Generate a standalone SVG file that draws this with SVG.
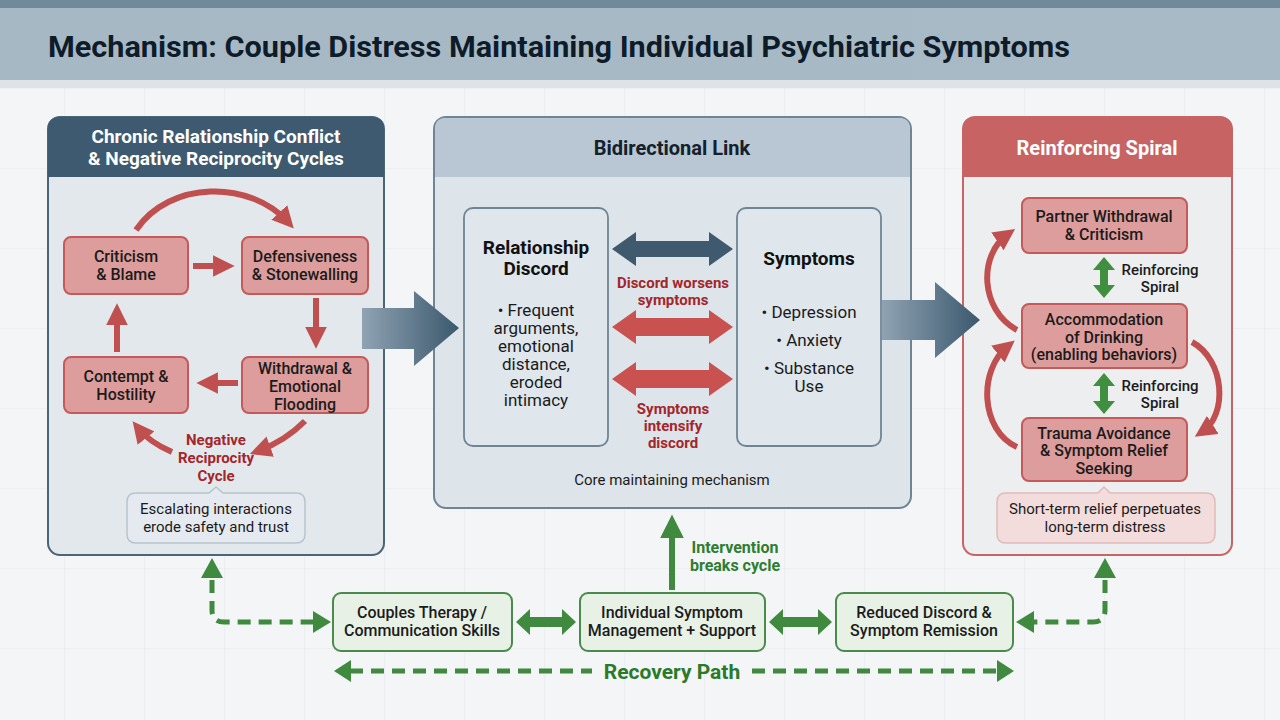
<svg xmlns="http://www.w3.org/2000/svg" width="1280" height="720" viewBox="0 0 1280 720">
<defs>
<pattern id="grid" width="80" height="80" patternUnits="userSpaceOnUse" x="64" y="8">
<path d="M80,0 L0,0 L0,80" fill="none" stroke="#e4e7eb" stroke-width="1"/>
</pattern>
<linearGradient id="bigArrow" x1="0" y1="0" x2="1" y2="0">
<stop offset="0" stop-color="#8fa3b3"/>
<stop offset="1" stop-color="#3b586d"/>
</linearGradient>
<linearGradient id="hdr" x1="0" y1="0" x2="1" y2="0">
<stop offset="0" stop-color="#a7b8c5"/>
<stop offset="1" stop-color="#a9bac7"/>
</linearGradient>
<marker id="redHead" viewBox="0 0 10 10" refX="6" refY="5" markerWidth="3.6" markerHeight="3.6" orient="auto" markerUnits="strokeWidth">
<path d="M0,0 L10,5 L0,10 z" fill="#c0504f"/>
</marker>
<marker id="greenHead" viewBox="0 0 10 10" refX="6" refY="5" markerWidth="4" markerHeight="4" orient="auto" markerUnits="strokeWidth">
<path d="M0,0 L10,5 L0,10 z" fill="#3f8a3f"/>
</marker>
</defs>
<style>
text{font-family:Roboto,"Liberation Sans",sans-serif;text-anchor:middle;}
.nodeR{fill:#dd9d9c;stroke:#c45a5a;stroke-width:2;}
.nodeG{fill:#e8f1e6;stroke:#4a8a4a;stroke-width:2;}
.t{font-size:16px;fill:#1b1b1b;font-weight:500;}
.tb{font-size:19px;fill:#111;font-weight:700;}
.red{font-size:15px;fill:#a3262a;font-weight:700;}
.grn{font-size:16px;fill:#2f7d2f;font-weight:700;}
.redArc{fill:none;stroke:#c0504f;stroke-width:6;marker-end:url(#redHead);}
.greenDash{fill:none;stroke:#3f8a3f;stroke-width:5;stroke-dasharray:13 8;}
.hdrT{font-size:20px;font-weight:700;fill:#fff;}
</style>

<rect width="1280" height="720" fill="#f4f5f7"/>
<rect width="1280" height="720" fill="url(#grid)"/>

<!-- header -->
<g id="header">
<rect x="0" y="0" width="1280" height="88" fill="#dfe3e8"/>
<rect x="0" y="8" width="1280" height="72" fill="url(#hdr)"/>
<rect x="0" y="0" width="1280" height="8" fill="#71899b"/>
<text x="48" y="57" textLength="1022" lengthAdjust="spacingAndGlyphs" style="text-anchor:start;font-size:29px;font-weight:700;fill:#0e1c2a;">Mechanism: Couple Distress Maintaining Individual Psychiatric Symptoms</text>
</g>

<!-- left panel -->
<g id="panel-left">
<rect x="48" y="117" width="336" height="438" rx="12" fill="#e3e8ed" stroke="#4a6478" stroke-width="2"/>
<path d="M48,177 L48,129 Q48,117 60,117 L372,117 Q384,117 384,129 L384,177 Z" fill="#3d5a70"/>
<text class="hdrT" x="216" y="143" style="font-size:19px">Chronic Relationship Conflict</text>
<text class="hdrT" x="216" y="165" style="font-size:19px">&amp; Negative Reciprocity Cycles</text>
</g>

<!-- middle panel -->
<g id="panel-middle">
<rect x="434" y="117" width="477" height="391" rx="12" fill="#dde4ea" stroke="#6f8596" stroke-width="2"/>
<path d="M435,177 L435,129 Q435,118 446,118 L899,118 Q910,118 910,129 L910,177 Z" fill="#b8c7d3"/>
<text x="672" y="155" style="font-size:20px;font-weight:700;fill:#14202c;">Bidirectional Link</text>
<text x="672" y="485" style="font-size:15px;fill:#1b1b1b;">Core maintaining mechanism</text>
</g>

<!-- right panel -->
<g id="panel-right">
<rect x="963" y="117" width="269" height="438" rx="12" fill="#eceef0" stroke="#c96464" stroke-width="2"/>
<path d="M963,177 L963,129 Q963,117 975,117 L1220,117 Q1232,117 1232,129 L1232,177 Z" fill="#c86363"/>
<text class="hdrT" x="1097" y="155">Reinforcing Spiral</text>
</g>

<!-- connectors -->
<g id="connectors">
<path d="M362,308 L414,308 L414,291 L459,328 L414,366 L414,349 L362,349 Z" fill="url(#bigArrow)"/>
<path d="M882,300 L935,300 L935,282 L980,320 L935,358 L935,340 L882,340 Z" fill="url(#bigArrow)"/>

<path class="redArc" d="M136,230 C170,180 250,180 288,222"/>
<line class="redArc" x1="193" y1="266" x2="226" y2="266"/>
<line class="redArc" x1="316" y1="298" x2="316" y2="340"/>
<line class="redArc" x1="238" y1="383" x2="205" y2="383"/>
<line class="redArc" x1="117" y1="352" x2="117" y2="312"/>
<path class="redArc" d="M305,421 C290,436 272,446 258,451"/>
<path class="redArc" d="M172,452 C158,446 146,438 138,428"/>
<text class="red" x="216" y="445">Negative</text>
<text class="red" x="216" y="463">Reciprocity</text>
<text class="red" x="216" y="481">Cycle</text>

<path d="M612,249 L636,232 L636,241 L709,241 L709,232 L733,249 L709,266 L709,257 L636,257 L636,266 Z" fill="#3f5a6e"/>
<path d="M612,327 L636,310 L636,318 L709,318 L709,310 L733,327 L709,344 L709,336 L636,336 L636,344 Z" fill="#c9514f"/>
<path d="M612,379 L636,362 L636,370 L709,370 L709,362 L733,379 L709,396 L709,388 L636,388 L636,396 Z" fill="#c9514f"/>
<text class="red" x="673" y="288">Discord worsens</text>
<text class="red" x="673" y="305">symptoms</text>
<text class="red" x="673" y="414">Symptoms</text>
<text class="red" x="673" y="431">intensify</text>
<text class="red" x="673" y="448">discord</text>

<path d="M1104,257 L1115,270 L1108,270 L1108,285 L1115,285 L1104,298 L1093,285 L1100,285 L1100,270 L1093,270 Z" fill="#3f8f3f"/>
<path d="M1104,373 L1115,386 L1108,386 L1108,401 L1115,401 L1104,414 L1093,401 L1100,401 L1100,386 L1093,386 Z" fill="#3f8f3f"/>
<text x="1160" y="275" style="font-size:15px;fill:#1b1b1b;font-weight:500;">Reinforcing</text>
<text x="1160" y="292" style="font-size:15px;fill:#1b1b1b;font-weight:500;">Spiral</text>
<text x="1160" y="391" style="font-size:15px;fill:#1b1b1b;font-weight:500;">Reinforcing</text>
<text x="1160" y="408" style="font-size:15px;fill:#1b1b1b;font-weight:500;">Spiral</text>
<path class="redArc" d="M1017,330 C980,310 978,255 1008,234"/>
<path class="redArc" d="M1017,447 C980,430 978,370 1008,346"/>
<path class="redArc" d="M1192,342 C1225,360 1228,415 1202,432"/>

<line x1="672" y1="590" x2="672" y2="524" stroke="#3f8a3f" stroke-width="6" marker-end="url(#greenHead)"/>
<text class="grn" x="735" y="553">Intervention</text>
<text class="grn" x="735" y="571">breaks cycle</text>
<path d="M516,622 L530,609 L530,617 L562,617 L562,609 L576,622 L562,635 L562,627 L530,627 L530,635 Z" fill="#3f8a3f"/>
<path d="M769,622 L783,609 L783,617 L818,617 L818,609 L832,622 L818,635 L818,627 L783,627 L783,635 Z" fill="#3f8a3f"/>
<path class="greenDash" d="M212,580 L212,610 Q212,622 224,622 L318,622"/>
<path d="M212,558 L223,578 L201,578 Z" fill="#3f8a3f"/>
<path d="M331,622 L313,611 L313,633 Z" fill="#3f8a3f"/>
<path class="greenDash" d="M1105,580 L1105,610 Q1105,622 1093,622 L1030,622"/>
<path d="M1105,558 L1116,578 L1094,578 Z" fill="#3f8a3f"/>
<path d="M1016,622 L1034,611 L1034,633 Z" fill="#3f8a3f"/>
<line class="greenDash" x1="350" y1="671" x2="592" y2="671" stroke-dasharray="11 7" stroke-width="4"/>
<path d="M334,671 L351,660 L351,682 Z" fill="#3f8a3f"/>
<line class="greenDash" x1="752" y1="671" x2="998" y2="671" stroke-dasharray="11 7" stroke-width="4"/>
<path d="M1014,671 L997,660 L997,682 Z" fill="#3f8a3f"/>
<text x="672" y="679" style="font-size:21px;font-weight:700;fill:#2a7a2a;">Recovery Path</text>
</g>

<g id="node-criticism">
<rect class="nodeR" x="64" y="237" width="124" height="57" rx="7"/>
<text class="t" x="126" y="262">Criticism</text>
<text class="t" x="126" y="280">&amp; Blame</text>
</g>
<g id="node-defensiveness">
<rect class="nodeR" x="242" y="237" width="126" height="57" rx="7"/>
<text class="t" x="305" y="262">Defensiveness</text>
<text class="t" x="305" y="280">&amp; Stonewalling</text>
</g>
<g id="node-withdrawal">
<rect class="nodeR" x="242" y="357" width="126" height="56" rx="7"/>
<text class="t" x="305" y="374">Withdrawal &amp;</text>
<text class="t" x="305" y="392">Emotional</text>
<text class="t" x="305" y="410">Flooding</text>
</g>
<g id="node-contempt">
<rect class="nodeR" x="64" y="357" width="124" height="56" rx="7"/>
<text class="t" x="126" y="382">Contempt &amp;</text>
<text class="t" x="126" y="400">Hostility</text>
</g>
<g id="note-escalating">
<path d="M136,493 L209,493 L216,487 L223,493 L296,493 Q305,493 305,502 L305,534 Q305,543 296,543 L136,543 Q127,543 127,534 L127,502 Q127,493 136,493 Z" fill="#e4eaef" stroke="#b8c4cc" stroke-width="1.5"/>
<text x="216" y="514" style="font-size:15px;fill:#1b1b1b;">Escalating interactions</text>
<text x="216" y="532" style="font-size:15px;fill:#1b1b1b;">erode safety and trust</text>
</g>

<g id="node-discord">
<rect x="464" y="208" width="144" height="238" rx="9" fill="#dfe6ec" stroke="#6f8596" stroke-width="1.8"/>
<text class="tb" x="536" y="254">Relationship</text>
<text class="tb" x="536" y="275">Discord</text>
<text x="536" y="316" style="font-size:17px;fill:#1b1b1b;">• Frequent</text>
<text x="536" y="334" style="font-size:17px;fill:#1b1b1b;">arguments,</text>
<text x="536" y="352" style="font-size:17px;fill:#1b1b1b;">emotional</text>
<text x="536" y="370" style="font-size:17px;fill:#1b1b1b;">distance,</text>
<text x="536" y="388" style="font-size:17px;fill:#1b1b1b;">eroded</text>
<text x="536" y="406" style="font-size:17px;fill:#1b1b1b;">intimacy</text>
</g>
<g id="node-symptoms">
<rect x="737" y="208" width="144" height="238" rx="9" fill="#dfe6ec" stroke="#6f8596" stroke-width="1.8"/>
<text class="tb" x="809" y="265">Symptoms</text>
<text x="809" y="318" style="font-size:17px;fill:#1b1b1b;">• Depression</text>
<text x="809" y="346" style="font-size:17px;fill:#1b1b1b;">• Anxiety</text>
<text x="809" y="374" style="font-size:17px;fill:#1b1b1b;">• Substance</text>
<text x="809" y="392" style="font-size:17px;fill:#1b1b1b;">Use</text>
</g>

<g id="node-partner">
<rect class="nodeR" x="1022" y="198" width="165" height="55" rx="7"/>
<text class="t" x="1104" y="222">Partner Withdrawal</text>
<text class="t" x="1104" y="240">&amp; Criticism</text>
</g>
<g id="node-accommodation">
<rect class="nodeR" x="1022" y="304" width="165" height="64" rx="7"/>
<text class="t" x="1104" y="325">Accommodation</text>
<text class="t" x="1104" y="343">of Drinking</text>
<text class="t" x="1104" y="360">(enabling behaviors)</text>
</g>
<g id="node-trauma">
<rect class="nodeR" x="1022" y="418" width="165" height="63" rx="7"/>
<text class="t" x="1104" y="439">Trauma Avoidance</text>
<text class="t" x="1104" y="456">&amp; Symptom Relief</text>
<text class="t" x="1104" y="474">Seeking</text>
</g>
<g id="note-shortterm">
<path d="M1006,493 L1098,493 L1104,487 L1110,493 L1206,493 Q1215,493 1215,502 L1215,534 Q1215,543 1206,543 L1006,543 Q997,543 997,534 L997,502 Q997,493 1006,493 Z" fill="#f3dcdc" stroke="#e2b9b9" stroke-width="1.5"/>
<text x="1105" y="514" style="font-size:15px;fill:#1b1b1b;">Short-term relief perpetuates</text>
<text x="1105" y="532" style="font-size:15px;fill:#1b1b1b;">long-term distress</text>
</g>

<g id="node-couples">
<rect class="nodeG" x="333" y="593" width="179" height="58" rx="8"/>
<text class="t" x="422" y="618">Couples Therapy /</text>
<text class="t" x="422" y="636">Communication Skills</text>
</g>
<g id="node-individual">
<rect class="nodeG" x="580" y="593" width="185" height="58" rx="8"/>
<text class="t" x="672" y="618">Individual Symptom</text>
<text class="t" x="672" y="636">Management + Support</text>
</g>
<g id="node-reduced">
<rect class="nodeG" x="836" y="593" width="177" height="58" rx="8"/>
<text class="t" x="924" y="618">Reduced Discord &amp;</text>
<text class="t" x="924" y="636">Symptom Remission</text>
</g>
</svg>
